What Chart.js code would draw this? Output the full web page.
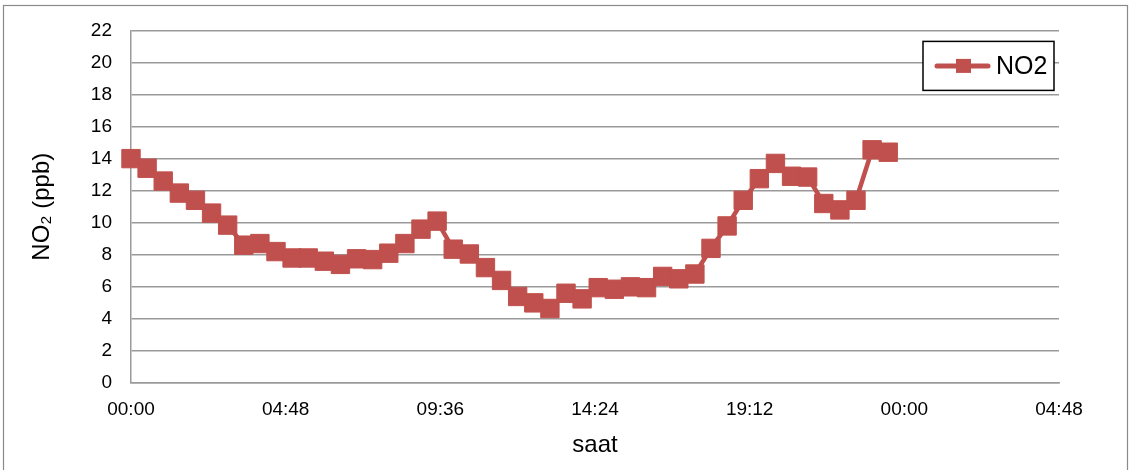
<!DOCTYPE html>
<html>
<head>
<meta charset="utf-8">
<title>NO2 (ppb) - saat</title>
<script src="https://cdn.jsdelivr.net/npm/chart.js@4.4.1/dist/chart.umd.min.js"></script>
<style>
  html, body { margin: 0; padding: 0; background: #fff; }
  #wrap { width: 1129px; height: 470px; }
</style>
</head>
<body>
<div id="wrap"><canvas id="no2Chart" width="1129" height="470"></canvas></div>
<script>
/* ── Data ── */
const times = [
  '00:00', '00:30', '01:00', '01:30', '02:00', '02:30', '03:00', '03:30',
  '04:00', '04:30', '05:00', '05:30', '06:00', '06:30', '07:00', '07:30',
  '08:00', '08:30', '09:00', '09:30', '10:00', '10:30', '11:00', '11:30',
  '12:00', '12:30', '13:00', '13:30', '14:00', '14:30', '15:00', '15:30',
  '16:00', '16:30', '17:00', '17:30', '18:00', '18:30', '19:00', '19:30',
  '20:00', '20:30', '21:00', '21:30', '22:00', '22:30', '23:00', '23:30'
];
const no2 = [
  14.0, 13.4, 12.6, 11.85, 11.4, 10.6, 9.85, 8.6,
  8.7, 8.2, 7.8, 7.8, 7.6, 7.4, 7.75, 7.7,
  8.1, 8.7, 9.6, 10.1, 8.35, 8.05, 7.2, 6.4,
  5.4, 5.0, 4.65, 5.6, 5.25, 5.95, 5.85, 6.0,
  5.95, 6.65, 6.5, 6.8, 8.4, 9.8, 11.4, 12.75,
  13.7, 12.9, 12.85, 11.2, 10.8, 11.4, 14.55, 14.4
];
// x ticks in minutes from midnight (Excel axis 0 .. 1.2 day, step 0.2)
const xTickValues = [0, 288, 576, 864, 1152, 1440, 1728];
const xTickLabels = ['00:00', '04:48', '09:36', '14:24', '19:12', '00:00', '04:48'];
const yTicks = [0, 2, 4, 6, 8, 10, 12, 14, 16, 18, 20, 22];

const seriesName = 'NO2';
const RED = '#C0504D';
const GRID = '#9a9a9a';
const FONT = "'Liberation Sans', Arial, sans-serif";

const toMin = t => { const [h, m] = t.split(':').map(Number); return h * 60 + m; };
const points = times.map((t, i) => ({ x: toMin(t), y: no2[i] }));

/* ── Plugins ── */
const frame = {
  id: 'frame',
  beforeDraw(chart) {
    const ctx = chart.ctx;
    ctx.save();
    ctx.fillStyle = '#fff';
    ctx.fillRect(0, 0, chart.width, chart.height);
    ctx.strokeStyle = '#8a8a8a';
    ctx.lineWidth = 1.2;
    ctx.strokeRect(3.5, 5.5, chart.width - 5, chart.height + 20);
    ctx.restore();
  }
};

const boxLegend = {
  id: 'boxLegend',
  afterDraw(chart) {
    const ctx = chart.ctx;
    const ca = chart.chartArea;
    const ds = chart.data.datasets[0];
    const w = 131, h = 49;
    const x = ca.right - 5 - w, y = ca.top + 11;
    ctx.save();
    ctx.fillStyle = '#fff';
    ctx.fillRect(x, y, w, h);
    ctx.strokeStyle = '#000';
    ctx.lineWidth = 1.5;
    ctx.strokeRect(x, y, w, h);
    const cy = y + h / 2;
    ctx.strokeStyle = ds.borderColor;
    ctx.lineWidth = 5;
    ctx.lineCap = 'round';
    ctx.beginPath();
    ctx.moveTo(x + 14, cy);
    ctx.lineTo(x + 65, cy);
    ctx.stroke();
    ctx.fillStyle = ds.pointBackgroundColor;
    ctx.fillRect(x + 33, cy - 7, 15, 14);
    ctx.fillStyle = '#000';
    ctx.font = '25px ' + FONT;
    ctx.textAlign = 'left';
    ctx.textBaseline = 'middle';
    ctx.fillText(ds.label, x + 73, cy + 1);
    ctx.restore();
  }
};

/* ── Chart ── */
new Chart(document.getElementById('no2Chart'), {
  type: 'line',
  data: {
    datasets: [{
      label: seriesName,
      data: points,
      borderColor: RED,
      borderWidth: 4.5,
      backgroundColor: RED,
      pointStyle: 'rect',
      pointRadius: 13,
      pointBorderWidth: 1,
      pointBackgroundColor: RED,
      pointBorderColor: RED,
      tension: 0,
      fill: false,
      clip: false
    }]
  },
  options: {
    responsive: false,
    animation: false,
    layout: { padding: { left: 0, top: 29, right: 70, bottom: 0 } },
    plugins: {
      legend: { display: false },
      tooltip: { enabled: false }
    },
    scales: {
      x: {
        type: 'linear',
        min: 0,
        max: 1728,
        afterBuildTicks: s => { s.ticks = xTickValues.map(v => ({ value: v })); },
        afterFit: s => { s.height = 87; },
        grid: { display: false, drawTicks: false },
        border: { display: true, color: GRID, width: 1.5 },
        ticks: {
          padding: 15,
          maxRotation: 0,
          autoSkip: false,
          color: '#000',
          font: { family: FONT, size: 19 },
          callback: (v, i) => xTickLabels[i]
        },
        title: {
          display: true,
          text: 'saat',
          color: '#000',
          font: { family: FONT, size: 24 },
          padding: { top: 0, bottom: 10 }
        }
      },
      y: {
        min: 0,
        max: 22,
        afterBuildTicks: s => { s.ticks = yTicks.map(v => ({ value: v })); },
        afterFit: s => { s.width = 131; },
        grid: { color: GRID, lineWidth: 1.5, drawTicks: false },
        border: { display: true, color: GRID, width: 1.5 },
        ticks: {
          padding: 19,
          color: '#000',
          font: { family: FONT, size: 19 }
        },
        title: {
          display: true,
          text: 'NO₂ (ppb)',
          color: '#000',
          font: { family: FONT, size: 24 },
          padding: { top: 28, bottom: 0 }
        }
      }
    }
  },
  plugins: [frame, boxLegend]
});
</script>
</body>
</html>
